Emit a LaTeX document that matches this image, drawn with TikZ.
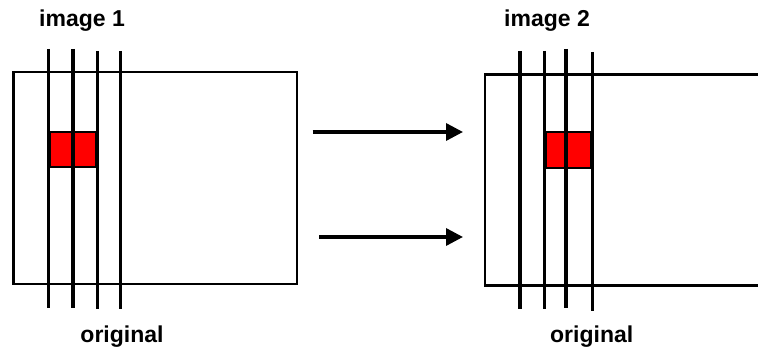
\documentclass[tikz,border=0pt]{standalone}
\usepackage{fontspec}
\setmainfont{Liberation Sans}
\usetikzlibrary{arrows.meta}
\begin{document}
\begin{tikzpicture}[x=1pt,y=-1pt,
  frame/.style={line width=2.4pt, line join=miter},
  grid/.style={line width=3.3pt},
  cell/.style={fill=red, draw=black, line width=2pt},
  conn/.style={line width=3.4pt, -{Triangle[length=17pt,width=17pt]}},
  label/.style={font=\bfseries\fontsize{23}{26}\selectfont, inner sep=0pt}]
\useasboundingbox (0,0) rectangle (758,352);
% left image
\draw[frame] (13.3,72) rectangle (296.7,284);
\draw[cell] (50,132) rectangle (73,167);
\draw[cell] (73,132) rectangle (96,167);
\draw[grid] (48.7,49) -- (48.7,308);
\draw[grid] (73,49) -- (73,308);
\draw[grid] (97.7,51) -- (97.7,309);
\draw[grid] (120.7,51) -- (120.7,309);
\node[label] (img1) at (82,21) {image 1};
\node[label] (orig1) at (122,337) {original};
% right image
\draw[frame] (758,74.7) -- (485,74.7) -- (485,285.7) -- (758,285.7);
\draw[cell] (545.7,132.3) rectangle (566,168.3);
\draw[cell] (566,132.3) rectangle (590.7,168.3);
\draw[grid] (520,51) -- (520,309);
\draw[grid] (544.3,51) -- (544.3,309);
\draw[grid] (566,49) -- (566,308);
\draw[grid] (592.7,52) -- (592.7,311);
\node[label] (img2) at (547,21) {image 2};
\node[label] (orig2) at (591.7,337) {original};
% arrows
\coordinate (a1s) at (312.7,132);
\coordinate (a1e) at (463,132);
\coordinate (a2s) at (319,237);
\coordinate (a2e) at (463,237);
\draw[conn] (a1s) -- (a1e);
\draw[conn] (a2s) -- (a2e);
\end{tikzpicture}
\end{document}
